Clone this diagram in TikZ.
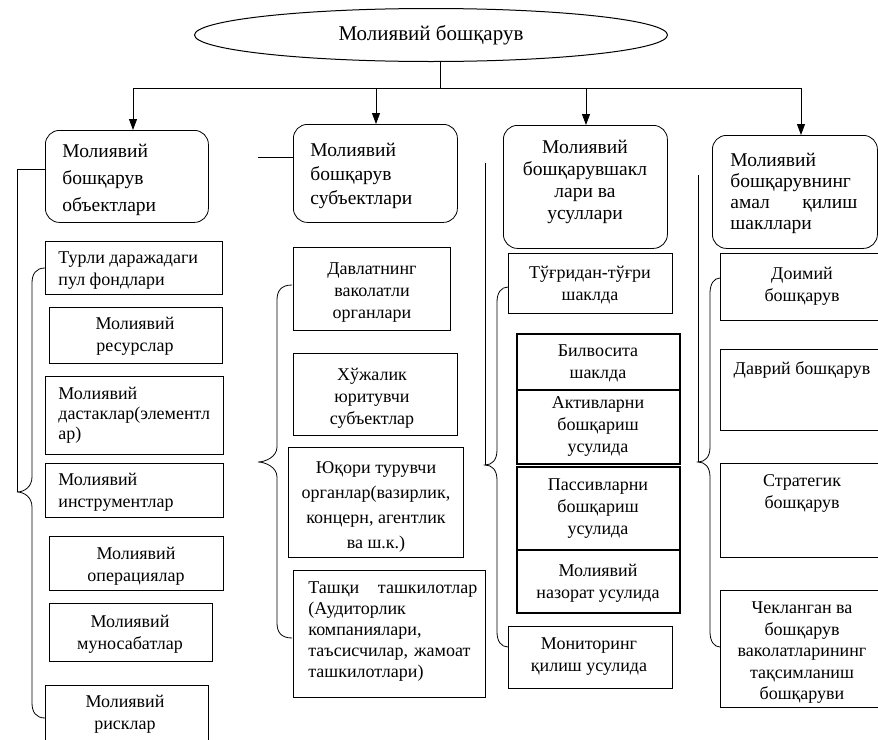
\documentclass[tikz,border=0pt]{standalone}
\usepackage{fontspec}
\setmainfont{Liberation Serif}
\usetikzlibrary{shapes.geometric,arrows.meta}

% curly brace: #1 x of the ends, #2 x of the spine, #3 x of the tip,
% #4 y of the top end, #5 y of the tip, #6 y of the bottom end
\newcommand\drawbrace[6]{%
  \draw (#1,#4) .. controls (#2+4,#4) and (#2,#4+6) .. (#2,#4+15)
        -- (#2,#5-15) .. controls (#2,#5-5) and (#3+7,#5) .. (#3,#5)
        .. controls (#3+7,#5) and (#2,#5+5) .. (#2,#5+15)
        -- (#2,#6-15) .. controls (#2,#6-6) and (#2+4,#6) .. (#1,#6);}

\begin{document}
\begin{tikzpicture}[x=1pt,y=-1pt,line width=0.8pt,
  hdr/.style={draw, rounded corners=14pt, anchor=north west, inner sep=0pt},
  box/.style={draw, anchor=north west, inner sep=0pt},
  heavy/.style={box, line width=1.8pt},
  mid/.style={box, line width=1.2pt},
  tx/.style={inner sep=0pt, align=center, font=\fontsize{18}{22}\selectfont},
  txl/.style={tx, align=left, anchor=west},
  htx/.style={inner sep=0pt, font=\fontsize{19.5}{#1}\selectfont},
  arr/.style={-{Triangle[length=11pt,width=8pt]}}
]
\useasboundingbox (0,0) rectangle (878,739);
\clip (0,0) rectangle (878,739);

% root
\node[draw, ellipse, line width=1pt, minimum width=473pt, minimum height=53pt, inner sep=0pt,
      font=\fontsize{21}{25}\selectfont] (root) at (431,35) {Молиявий бошқарув};

% four headings
\node[hdr, minimum width=163pt, minimum height=92pt]  (h1) at (45,130)  {};
\node[hdr, minimum width=164pt, minimum height=98pt]  (h2) at (293,124) {};
\node[hdr, minimum width=164pt, minimum height=123pt] (h3) at (503,125) {};
\node[hdr, minimum width=165pt, minimum height=113pt] (h4) at (712,135) {};

\node[htx=27, align=left, anchor=west] (h1t) at (62,180) {Молиявий\\бошқарув\\объектлари};
\node[htx=24, align=left, anchor=west] (h2t) at (310,176) {Молиявий\\бошқарув\\субъектлари};
\node[htx=22, align=center] (h3t) at (585,182) {Молиявий\\бошқарувшакл\\лари ва\\усуллари};
\node[htx=21, align=left, anchor=west] (h4t) at (730,193)
  {Молиявий\\бошқарувнинг\\\makebox[127pt][s]{амал қилиш}\\шакллари};

% connectors from the root
\coordinate (stem) at (440,88);
\coordinate (a1) at (133,88);
\coordinate (a2) at (376,88);
\coordinate (a3) at (586,88);
\coordinate (a4) at (801,88);
\draw (root.south -| stem) -- (stem);
\draw (a1) -- (a4);
\draw[arr] (a1) -- (h1.north -| a1);
\draw[arr] (a2) -- (h2.north -| a2);
\draw[arr] (a3) -- (h3.north -| a3);
\draw[arr] (a4) -- (h4.north -| a4);

% column 1: objects
\node[box, minimum width=177pt, minimum height=53pt] (r1) at (45,241) {};
\node[box, minimum width=173pt, minimum height=56pt] (r2) at (49,307) {};
\node[box, minimum width=178pt, minimum height=78pt] (r3) at (45,376) {};
\node[box, minimum width=178pt, minimum height=54pt] (r4) at (45,463) {};
\node[box, minimum width=174pt, minimum height=54pt] (r5) at (49,536) {};
\node[box, minimum width=163pt, minimum height=58pt] (r6) at (49,603) {};
\node[box, minimum width=163pt, minimum height=70pt] (r7) at (45,685) {};

\node[txl] (r1t) at (58,271) {Турли даражадаги\\пул фондлари};
\node[tx]  (r2t) at (135,336) {Молиявий\\ресурслар};
\node[txl, font=\fontsize{18}{20}\selectfont] (r3t) at (58,415) {Молиявий\\дастаклар(элементл\\ар)};
\node[txl] (r4t) at (58,492) {Молиявий\\инструментлар};
\node[tx]  (r5t) at (136,566) {Молиявий\\операциялар};
\node[tx]  (r6t) at (130,634) {Молиявий\\муносабатлар};
\node[tx]  (r7t) at (125,714) {Молиявий\\рисклар};

\coordinate (c1) at (17,492);
\draw (h1.west |- 0,169) -- (17,169) -- (c1);
\drawbrace{45}{32}{17}{268}{492}{718}

% column 2: subjects
\node[box, minimum width=157pt, minimum height=83pt]  (s1) at (293,247) {};
\node[box, minimum width=164pt, minimum height=82pt]  (s2) at (293,353) {};
\node[mid, minimum width=175pt, minimum height=110pt] (s3) at (288,447) {};
\node[box, minimum width=192pt, minimum height=127pt] (s4) at (293,570) {};

\node[tx] (s1t) at (372,293) {Давлатнинг\\ваколатли\\органлари};
\node[tx] (s2t) at (372,398) {Хўжалик\\юритувчи\\субъектлар};
\node[tx, font=\fontsize{18}{25}\selectfont] (s3t) at (376,507)
  {Юқори турувчи\\органлар(вазирлик,\\концерн, агентлик\\ва ш.к.)};
\node[txl, font=\fontsize{18}{21}\selectfont] (s4t) at (308,632)
  {\makebox[169pt][s]{Ташқи ташкилотлар}\\(Аудиторлик\\компаниялари,\\\makebox[162pt][s]{таъсисчилар, жамоат}\\ташкилотлари)};

\draw (258,157) -- (h2.west |- 0,157);
\drawbrace{292}{277}{258}{285}{462}{638}

% column 3: forms and methods
\node[box,   minimum width=164pt, minimum height=60pt] (m1) at (508,253) {};
\node[heavy, minimum width=163pt, minimum height=56pt] (m2) at (516,333) {};
\node[heavy, minimum width=163pt, minimum height=74pt] (m3) at (516,389) {};
\node[heavy, minimum width=163pt, minimum height=83pt] (m4) at (516,466) {};
\node[heavy, minimum width=163pt, minimum height=63pt] (m5) at (516,549) {};
\node[box,   minimum width=164pt, minimum height=62pt] (m6) at (508,626) {};

\node[tx] (m1t) at (590,285) {Тўғридан-тўғри\\шаклда};
\node[tx] (m2t) at (598,363) {Билвосита\\шаклда};
\node[tx] (m3t) at (598,426) {Активларни\\бошқариш\\усулида};
\node[tx] (m4t) at (598,509) {Пассивларни\\бошқариш\\усулида};
\node[tx] (m5t) at (598,583) {Молиявий\\назорат усулида};
\node[tx] (m6t) at (589,657) {Мониторинг\\қилиш усулида};

\coordinate (c3) at (485,465);
\draw (485,163) -- (c3);
\drawbrace{508}{497}{485}{287}{465}{647}

% column 4: ways of acting
\node[box, minimum width=166pt, minimum height=67pt]  (f1) at (720,253) {};
\node[box, minimum width=166pt, minimum height=81pt]  (f2) at (720,349) {};
\node[box, minimum width=166pt, minimum height=94pt]  (f3) at (720,463) {};
\node[box, minimum width=166pt, minimum height=117pt] (f4) at (720,590) {};

\node[tx] (f1t) at (802,286) {Доимий\\бошқарув};
\node[tx] (f2t) at (802,370) {Даврий бошқарув};
\node[tx] (f3t) at (802,493) {Стратегик\\бошқарув};
\node[tx, font=\fontsize{18}{21.5}\selectfont] (f4t) at (802,653)
  {Чекланган ва\\бошқарув\\ваколатларининг\\тақсимланиш\\бошқаруви};

\coordinate (c4) at (698,462);
\draw (698,175) -- (c4);
\drawbrace{720}{710}{698}{278}{462}{647}
\end{tikzpicture}
\end{document}
